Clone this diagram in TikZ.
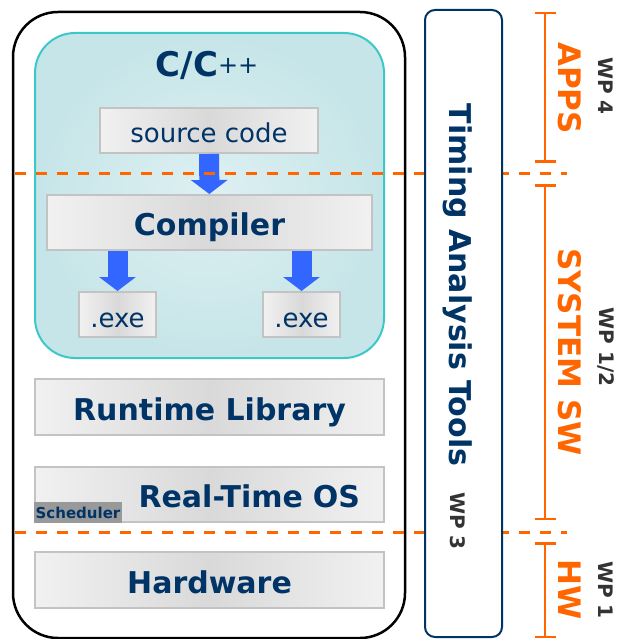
\documentclass[tikz,border=0pt]{standalone}
\usepackage{fontspec}
\setmainfont{DejaVu Sans}
\usetikzlibrary{positioning,calc,arrows.meta}
\definecolor{navy}{HTML}{003366}
\definecolor{tangerine}{HTML}{FF6600}
\definecolor{tealline}{HTML}{3CC8C8}
\definecolor{tealin}{HTML}{DEF0F2}
\definecolor{tealout}{HTML}{C6E5E8}
\definecolor{boxline}{HTML}{C3C3C3}
\definecolor{boxmid}{HTML}{D9D9D9}
\definecolor{boxside}{HTML}{F1F1F1}
\definecolor{flowblue}{HTML}{3366FF}
\definecolor{wpgray}{HTML}{333333}
\definecolor{schedgray}{HTML}{999999}

\begin{document}
\begin{tikzpicture}[x=1pt,y=-1pt,
    layer/.style={draw=boxline, line width=2pt, left color=boxside, right color=boxside,
      middle color=boxmid, text=navy, inner sep=0pt},
    big/.style={font=\fontsize{30}{36}\selectfont\bfseries, text height=26pt, text depth=0pt},
    small/.style={font=\fontsize{26}{30}\selectfont, text height=25pt, text depth=0pt},
    flow/.style={flowblue, line width=20pt, -{Triangle[width=36pt,length=14pt]}},
    cut/.style={tangerine, line width=3pt, dash pattern=on 11pt off 10pt},
    brace/.style={tangerine, line width=2.5pt, {Bar[width=21pt]}-{Bar[width=21pt]}},
    side/.style={font=\fontsize{31}{36}\selectfont\bfseries, text=tangerine, rotate=-90, inner sep=0pt},
    wp/.style={font=\fontsize{20}{24}\selectfont\bfseries, text=wpgray, rotate=-90, inner sep=0pt}]
    \useasboundingbox (0,0) rectangle (618,639);

    % platform frame and the C/C++ part
    \draw[line width=2.5pt, rounded corners=45pt] (13,12) rectangle (405,638);
    \draw[draw=tealline, line width=2pt, inner color=tealin, outer color=tealout,
      rounded corners=40pt] (35,33) rectangle (384,358);
    \node[text=navy, anchor=base] (lang) at (207,77)
      {\fontsize{34}{40}\selectfont\bfseries C/C\mdseries\fontsize{24}{28}\selectfont\raisebox{3pt}{++}};

    \node[layer, small, minimum width=218pt, minimum height=45pt] (src) at (209,130.5) {source code};
    \node[layer, big, minimum width=325pt, minimum height=55pt] (comp) at (209.5,222.5) {Compiler};
    \node[layer, small, minimum width=77pt, minimum height=45pt] (exe1) at (117.5,314.5) {.exe};
    \node[layer, small, minimum width=77pt, minimum height=45pt] (exe2) at (301.5,314.5) {.exe};

    \path[flow]
        (src) edge (comp)
        (exe1 |- comp.south) edge (exe1)
        (exe2 |- comp.south) edge (exe2);

    % layer borders
    \coordinate (cutA) at (15,174);
    \coordinate (cutB) at (15,532);
    \draw[cut] (cutA) -- ++(552,0);
    \draw[cut] (cutB) -- ++(552,0);

    \node[layer, big, minimum width=349pt, minimum height=56pt] (rtlib) at (209.5,407) {Runtime Library};
    \node[layer, big, minimum width=349pt, minimum height=55pt, text width=301pt, align=right]
      (rtos) at (209.5,494.5) {Real-Time OS};
    \node[fill=schedgray, text=navy, font=\fontsize{15}{18}\selectfont\bfseries, inner sep=0pt,
      minimum width=88pt, minimum height=21pt] (sched) at (78,512.5) {Scheduler};
    \node[layer, big, minimum width=349pt, minimum height=56pt] (hw) at (209.5,580) {Hardware};

    % tools column
    \node[draw=navy, line width=2pt, fill=white, rounded corners=10pt, inner sep=0pt,
      minimum width=77pt, minimum height=627pt] (tools) at (463.5,323.5) {};
    \node[text=navy, font=\fontsize{30}{36}\selectfont\bfseries, rotate=-90, inner sep=0pt]
      (toolstext) at (458,285) {Timing Analysis Tools};
    \node[wp] (wp3) at (458,521) {WP 3};

    % work packages
    \coordinate (appsT) at (545,12);
    \coordinate (appsB) at (545,163);
    \coordinate (swT) at (545,184);
    \coordinate (swB) at (545,520);
    \coordinate (hwT) at (545,542);
    \coordinate (hwB) at (545,638);
    \draw[brace] (appsT) -- (appsB);
    \draw[brace] (swT) -- (swB);
    \draw[brace] (hwT) -- (hwB);

    \node[side] (apps) at (570,88) {APPS};
    \node[side] (syssw) at (570,352) {SYSTEM SW};
    \node[side] (hwlabel) at (570,590) {HW};
    \node[wp] (wp4) at (606,86) {WP 4};
    \node[wp] (wp12) at (606,347) {WP 1/2};
    \node[wp] (wp1) at (606,590) {WP 1};
\end{tikzpicture}
\end{document}
